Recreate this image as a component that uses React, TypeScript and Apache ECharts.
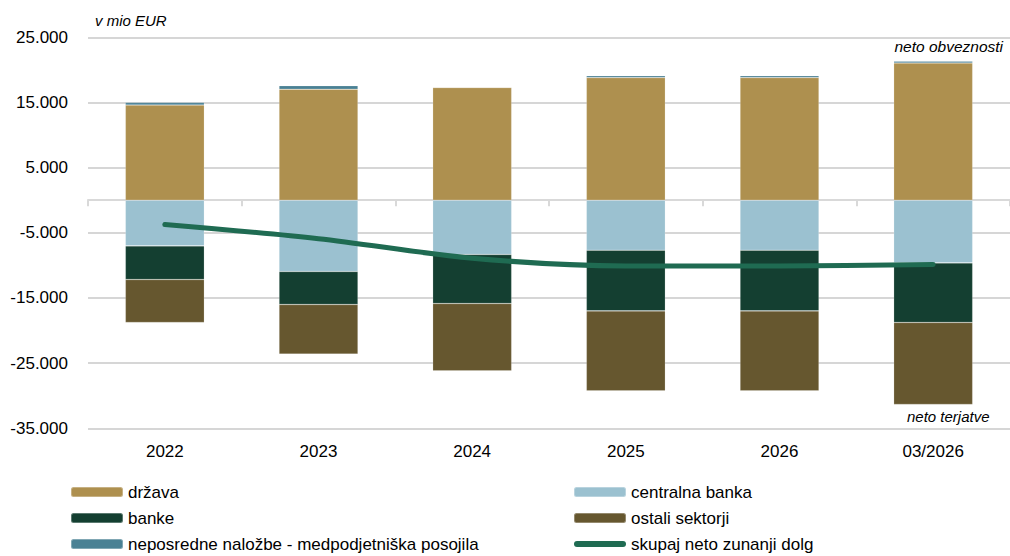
import React, { useEffect, useRef } from "react";
import * as echarts from "echarts";

const categories = ["2022", "2023", "2024", "2025", "2026", "03/2026"];
const drzava = [14600, 17030, 17290, 18820, 18820, 21060];
const neposredne = [400, 560, 0, 300, 300, 260];
const centralna = [-7000, -10940, -8330, -7670, -7670, -9620];
const banke = [-5170, -5060, -7520, -9310, -9310, -9140];
const ostali = [-6590, -7620, -10330, -12270, -12270, -12580];
const skupaj = [-3730, -5900, -8900, -10080, -10080, -9870];
const yTicks = { min: -35000, max: 25000, interval: 10000 };

const FONT = "'Liberation Sans', Arial, sans-serif";

function fmt(v: number) {
  const s = Math.abs(v).toString().replace(/\B(?=(\d{3})+(?!\d))/g, ".");
  return (v < 0 ? "-" : "") + s;
}

const LINE_ICON = "path://M3,0 L49,0 A3,3 0 0 1 49,6 L3,6 A3,3 0 0 1 3,0 Z";

export default function App() {
  const ref = useRef<HTMLDivElement>(null);
  useEffect(() => {
    if (!ref.current) return;
    const chart = echarts.init(ref.current, null, { renderer: "svg" });
    const bar = (name: string, data: number[], color: string) => ({
      name,
      type: "bar",
      stack: "a",
      data,
      barWidth: 79,
      itemStyle: { color, borderColor: "rgba(255,255,255,0.3)", borderWidth: 0.6 },
      emphasis: { disabled: true },
    });
    const legendBase = {
      orient: "vertical",
      top: 482,
      padding: 0,
      itemWidth: 52,
      itemHeight: 10,
      itemGap: 6,
      symbolKeepAspect: true,
      textStyle: { fontSize: 17, color: "#000", fontFamily: FONT, lineHeight: 20 },
    };
    chart.setOption({
      animation: false,
      textStyle: { fontFamily: FONT },
      grid: { left: 88, right: -8, top: 37.3, bottom: 127.7, containLabel: false },
      xAxis: [
        {
          type: "category",
          data: categories,
          position: "bottom",
          axisLine: { onZero: true, lineStyle: { color: "#d9d9d9", width: 2 } },
          axisTick: { show: true, length: 6, lineStyle: { color: "#d9d9d9", width: 2 } },
          axisLabel: { show: false },
          splitLine: { show: false },
        },
        {
          type: "category",
          data: categories,
          position: "bottom",
          axisLine: { show: false, onZero: false },
          axisTick: { show: false },
          axisLabel: { color: "#000", fontSize: 17, margin: 15, fontFamily: FONT },
          splitLine: { show: false },
        },
      ],
      yAxis: {
        type: "value",
        min: yTicks.min,
        max: yTicks.max,
        interval: yTicks.interval,
        axisLine: { show: false },
        axisTick: { show: false },
        axisLabel: { color: "#000", fontSize: 17, margin: 20, formatter: (v: number) => fmt(v), fontFamily: FONT },
        splitLine: { lineStyle: { color: "#c8c8c8", width: 1.5 } },
      },
      legend: [
        {
          ...legendBase,
          left: 70,
          data: ["država", "banke", "neposredne naložbe - medpodjetniška posojila"],
        },
        {
          ...legendBase,
          left: 573,
          data: [
            "centralna banka",
            "ostali sektorji",
            { name: "skupaj neto zunanji dolg", icon: LINE_ICON },
          ],
        },
      ],
      graphic: [
        { type: "text", left: 95, top: 13, style: { text: "v mio EUR", fontStyle: "italic", fontSize: 15, fontFamily: FONT, fill: "#000" } },
        { type: "text", right: 7, top: 38, style: { text: "neto obveznosti", fontStyle: "italic", fontSize: 15.5, fontFamily: FONT, fill: "#000" } },
        { type: "text", left: 907, top: 409, style: { text: "neto terjatve", fontStyle: "italic", fontSize: 15, fontFamily: FONT, fill: "#000" } },
      ],
      series: [
        bar("država", drzava, "#ae904f"),
        bar("neposredne naložbe - medpodjetniška posojila", neposredne, "#4a8194"),
        bar("centralna banka", centralna, "#9bc1d0"),
        bar("banke", banke, "#143f31"),
        bar("ostali sektorji", ostali, "#66572f"),
        {
          name: "skupaj neto zunanji dolg",
          type: "line",
          data: skupaj,
          smooth: 0.3,
          symbol: "none",
          lineStyle: { color: "#1f6b52", width: 5, cap: "round" },
          itemStyle: { color: "#1f6b52" },
          emphasis: { disabled: true },
          z: 5,
        },
      ],
    });
    return () => chart.dispose();
  }, []);
  return <div ref={ref} style={{ width: 1010, height: 556, position: "absolute", left: 0, top: 0 }} />;
}
